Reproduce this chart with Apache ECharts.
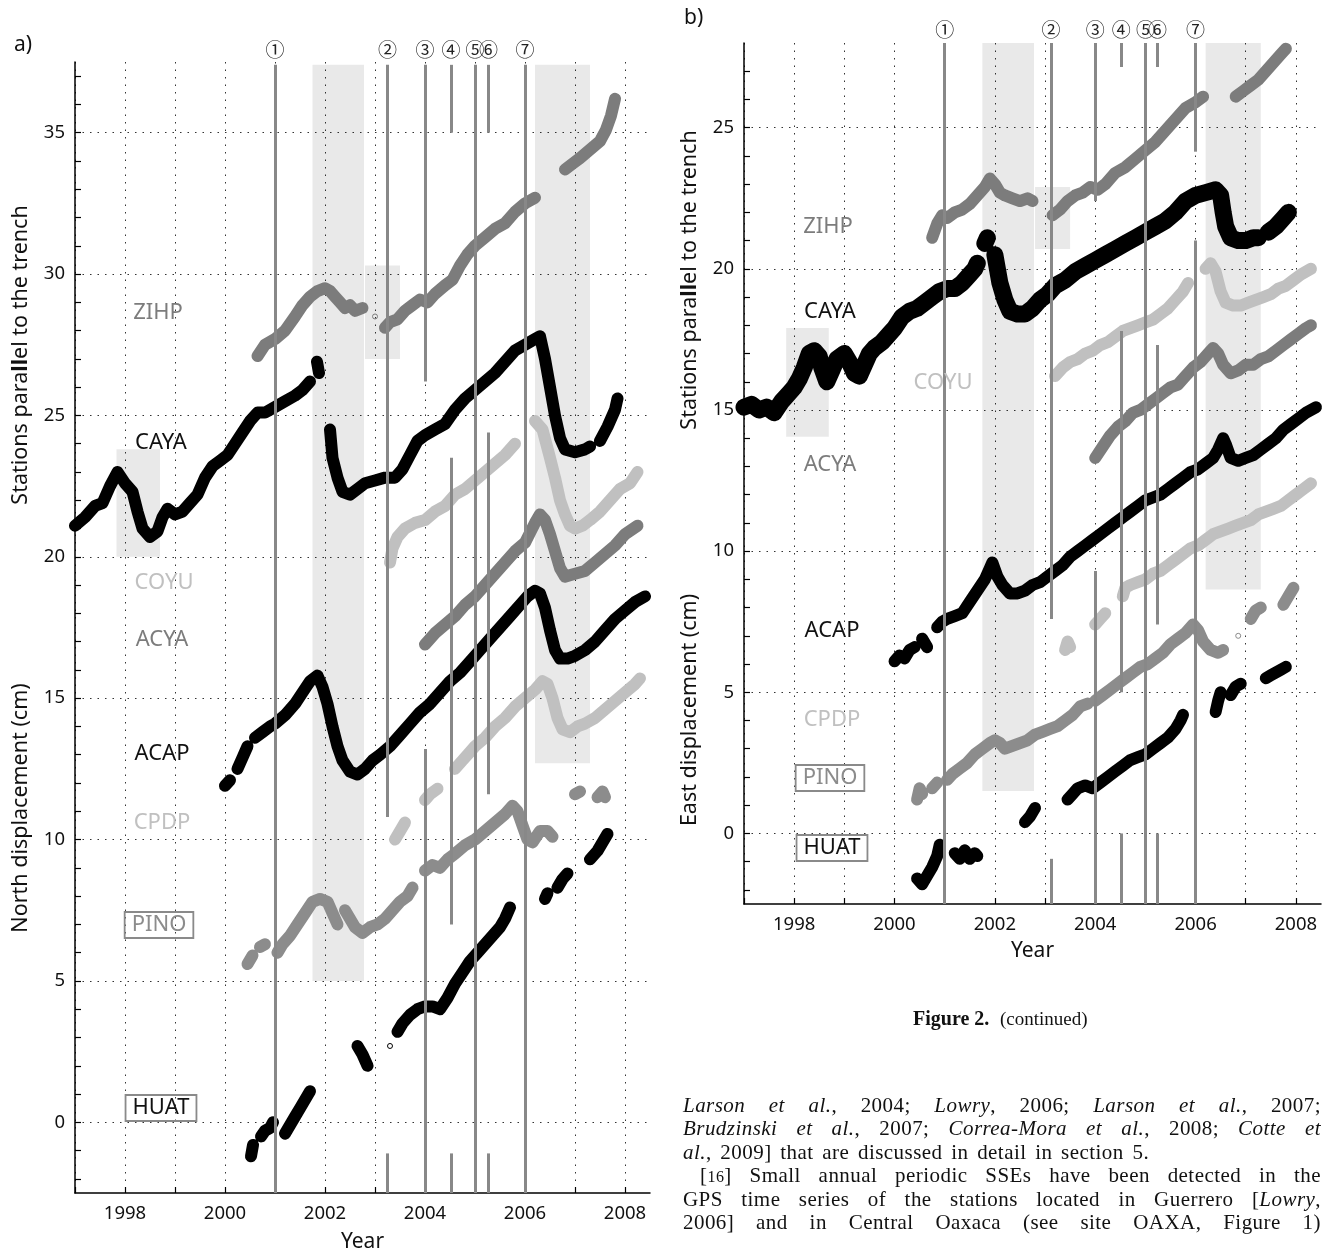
<!DOCTYPE html>
<html><head><meta charset="utf-8">
<script src="https://cdn.jsdelivr.net/npm/echarts@6/dist/echarts.min.js"></script>
<style>
html,body{margin:0;padding:0;background:#fff;overflow:hidden;width:1329px;height:1250px}
#c{position:absolute;left:0;top:0;width:1329px;height:1250px}
.cap{position:absolute;top:1007px;font-family:'Liberation Serif',serif;color:#111;white-space:pre}
#txt{position:absolute;left:683px;top:1094px;width:638px;font-family:'Liberation Serif',serif;font-size:21px;line-height:23.3px;color:#111;letter-spacing:0.45px;word-spacing:3px}
#txt div{text-align:justify;text-align-last:justify;white-space:nowrap}
#txt div.l{text-align-last:left}
#txt div.ind{padding-left:17px}
</style></head>
<body>
<div id="c"></div>
<div class="cap" style="left:913px;font-size:20px"><b>Figure 2.</b></div>
<div class="cap" style="left:1000px;font-size:19px;top:1008px">(continued)</div>
<div id="txt">
<div><i>Larson et al.</i>, 2004; <i>Lowry</i>, 2006; <i>Larson et al.</i>, 2007;</div>
<div><i>Brudzinski et al.</i>, 2007; <i>Correa-Mora et al.</i>, 2008; <i>Cotte et</i></div>
<div class="l"><i>al.</i>, 2009] that are discussed in detail in section 5.</div>
<div class="ind">[<span style="font-size:16px">16</span>]  Small annual periodic SSEs have been detected in the</div>
<div>GPS time series of the stations located in Guerrero [<i>Lowry</i>,</div>
<div>2006] and in Central Oaxaca (see site OAXA, Figure 1)</div>
</div>
<script>
// ---------- tick values ----------
const xTickVals = [1997,1998,1999,2000,2001,2002,2003,2004,2005,2006,2007,2008];
const xLabelVals = [1998,2000,2002,2004,2006,2008];
const yTickValsA = [-2,-1,0,1,2,3,4,5,6,7,8,9,10,11,12,13,14,15,16,17,18,19,20,21,22,23,24,25,26,27,28,29,30,31,32,33,34,35,36,37];
const yLabelValsA = [0,5,10,15,20,25,30,35];
const yTickValsB = [-2,-1,0,1,2,3,4,5,6,7,8,9,10,11,12,13,14,15,16,17,18,19,20,21,22,23,24,25,26,27];
const yLabelValsB = [0,5,10,15,20,25];
const eventLabels = ['①','②','③','④','⑤','⑥','⑦'];

// ---------- panel a: North displacement ----------
const aZIHP = [[2000.65,27.1],[2000.8,27.5],[2001.0,27.7],[2001.2,28.0],[2001.4,28.5],[2001.55,28.9],[2001.7,29.2],[2001.85,29.4],[2002.0,29.5],[2002.1,29.4],[2002.2,29.2],[2002.3,29.0],[2002.4,28.8],[2002.5,28.9],[2002.6,28.7],[2002.75,28.8],null,[2003.0,28.5],null,[2003.2,28.1],[2003.3,28.3],[2003.45,28.4],[2003.6,28.7],[2003.75,28.9],[2003.9,29.1],[2004.05,29.0],[2004.2,29.3],[2004.4,29.6],[2004.55,29.8],[2004.7,30.3],[2004.85,30.7],[2005.0,31.0],[2005.2,31.3],[2005.4,31.6],[2005.6,31.8],[2005.8,32.2],[2006.0,32.5],[2006.2,32.7],null,[2006.8,33.7],[2006.95,33.9],[2007.1,34.1],[2007.3,34.4],[2007.5,34.7],[2007.62,35.1],[2007.72,35.6],[2007.8,36.2]];
const aCAYA = [[1997.0,21.1],[1997.2,21.4],[1997.4,21.8],[1997.55,21.9],[1997.7,22.5],[1997.85,23.0],[1998.0,22.6],[1998.15,22.3],[1998.25,21.6],[1998.35,21.0],[1998.5,20.7],[1998.65,20.9],[1998.75,21.4],[1998.85,21.7],[1999.0,21.5],[1999.15,21.6],[1999.3,21.9],[1999.45,22.2],[1999.6,22.8],[1999.75,23.2],[1999.9,23.4],[2000.05,23.6],[2000.2,24.0],[2000.35,24.4],[2000.5,24.8],[2000.65,25.1],[2000.8,25.1],[2001.0,25.3],[2001.2,25.5],[2001.4,25.7],[2001.55,25.9],[2001.7,26.2],null,[2001.84,26.9],[2001.88,26.5],null,[2002.1,24.5],[2002.15,23.5],[2002.25,22.8],[2002.35,22.3],[2002.5,22.2],[2002.65,22.4],[2002.8,22.6],[2003.0,22.7],[2003.2,22.8],[2003.4,22.8],[2003.55,23.1],[2003.7,23.6],[2003.85,24.1],[2004.0,24.3],[2004.2,24.5],[2004.4,24.7],[2004.6,25.2],[2004.8,25.6],[2005.0,25.9],[2005.2,26.2],[2005.4,26.5],[2005.6,26.9],[2005.8,27.3],[2006.0,27.5],[2006.2,27.7],[2006.3,27.8],[2006.4,27.0],[2006.5,26.0],[2006.6,25.0],[2006.7,24.2],[2006.8,23.8],[2007.0,23.7],[2007.2,23.8],[2007.3,23.9],null,[2007.5,24.1],[2007.65,24.6],[2007.8,25.2],[2007.85,25.6]];
const aCOYU = [[2003.3,19.8],[2003.35,20.3],[2003.45,20.7],[2003.6,21.0],[2003.8,21.2],[2004.0,21.3],[2004.2,21.6],[2004.4,21.8],[2004.6,22.2],[2004.8,22.4],[2005.0,22.7],[2005.2,23.0],[2005.4,23.3],[2005.6,23.6],[2005.8,24.0],null,[2006.2,24.8],[2006.35,24.5],[2006.5,23.5],[2006.6,22.8],[2006.7,22.0],[2006.8,21.5],[2006.9,21.1],[2007.0,21.0],[2007.15,21.1],[2007.3,21.3],[2007.5,21.6],[2007.7,22.0],[2007.9,22.4],[2008.1,22.6],[2008.25,23.0]];
const aACYA = [[2004.0,16.9],[2004.2,17.3],[2004.4,17.6],[2004.6,17.9],[2004.8,18.3],[2005.0,18.6],[2005.2,19.0],[2005.4,19.4],[2005.6,19.8],[2005.8,20.2],[2006.0,20.5],[2006.2,21.2],[2006.3,21.5],[2006.4,21.3],[2006.5,20.8],[2006.6,20.2],[2006.7,19.6],[2006.8,19.3],[2007.0,19.4],[2007.2,19.5],[2007.4,19.8],[2007.6,20.1],[2007.8,20.4],[2008.0,20.8],[2008.25,21.1]];
const aACAP = [[2000.0,11.9],[2000.1,12.1],null,[2000.25,12.5],[2000.35,12.9],[2000.45,13.3],null,[2000.6,13.6],[2000.75,13.8],[2000.9,14.0],[2001.0,14.1],[2001.2,14.4],[2001.4,14.8],[2001.55,15.2],[2001.7,15.6],[2001.85,15.8],[2001.95,15.4],[2002.05,14.8],[2002.15,14.0],[2002.25,13.3],[2002.35,12.8],[2002.5,12.4],[2002.65,12.3],[2002.8,12.5],[2002.95,12.8],[2003.1,13.0],[2003.3,13.3],[2003.5,13.7],[2003.7,14.1],[2003.9,14.5],[2004.1,14.8],[2004.3,15.2],[2004.5,15.6],[2004.7,15.9],[2004.9,16.3],[2005.1,16.7],[2005.3,17.1],[2005.5,17.5],[2005.7,17.9],[2005.9,18.3],[2006.05,18.6],[2006.2,18.8],[2006.3,18.7],[2006.4,18.2],[2006.5,17.4],[2006.6,16.7],[2006.7,16.4],[2006.85,16.4],[2007.0,16.5],[2007.2,16.7],[2007.4,17.0],[2007.6,17.4],[2007.8,17.8],[2008.0,18.1],[2008.2,18.4],[2008.4,18.6]];
const aCPDP = [[2003.4,10.0],[2003.5,10.3],[2003.6,10.6],null,[2004.0,11.4],[2004.1,11.6],[2004.25,11.8],null,[2004.6,12.5],[2004.75,12.8],[2004.9,13.1],[2005.0,13.3],[2005.2,13.6],[2005.4,14.0],[2005.6,14.3],[2005.8,14.7],[2006.0,15.0],[2006.2,15.3],[2006.35,15.6],[2006.45,15.5],[2006.55,15.0],[2006.65,14.3],[2006.75,13.9],[2006.9,13.8],[2007.05,14.0],[2007.2,14.1],[2007.4,14.3],[2007.6,14.6],[2007.8,14.9],[2008.0,15.2],[2008.2,15.5],[2008.3,15.7]];
const aPINO = [[2000.45,5.6],[2000.55,5.9],null,[2000.7,6.2],[2000.8,6.3],null,[2001.05,6.0],[2001.15,6.3],[2001.3,6.6],[2001.45,7.0],[2001.6,7.4],[2001.75,7.8],[2001.9,7.9],[2002.05,7.8],[2002.15,7.4],[2002.25,7.0],null,[2002.4,7.5],[2002.5,7.2],[2002.6,6.9],[2002.75,6.7],[2002.9,6.9],[2003.05,7.0],[2003.2,7.2],[2003.35,7.5],[2003.5,7.8],[2003.65,8.0],[2003.75,8.3],null,[2004.0,8.9],[2004.15,9.1],[2004.3,9.0],[2004.45,9.3],[2004.6,9.5],[2004.8,9.8],[2005.0,10.0],[2005.2,10.3],[2005.4,10.6],[2005.6,10.9],[2005.75,11.2],[2005.85,11.0],[2005.95,10.5],[2006.05,10.0],[2006.15,9.9],[2006.3,10.3],[2006.45,10.3],[2006.55,10.1],null,[2007.0,11.6],[2007.1,11.7],null,[2007.45,11.5],[2007.55,11.7],[2007.6,11.5]];
const aHUAT = [[2000.52,-1.2],[2000.56,-0.8],null,[2000.72,-0.5],[2000.8,-0.3],[2000.9,-0.2],[2000.96,0.0],null,[2001.2,-0.4],[2001.3,-0.1],[2001.4,0.2],[2001.5,0.5],[2001.6,0.8],[2001.7,1.1],null,[2002.65,2.7],[2002.75,2.4],[2002.85,2.0],null,[2003.3,2.7],null,[2003.45,3.2],[2003.55,3.5],[2003.7,3.8],[2003.85,4.0],[2004.0,4.1],[2004.15,4.1],[2004.3,4.0],[2004.45,4.4],[2004.6,4.9],[2004.75,5.3],[2004.9,5.7],[2005.05,6.0],[2005.2,6.3],[2005.35,6.6],[2005.5,6.9],[2005.6,7.2],[2005.7,7.6],null,[2006.4,7.9],[2006.45,8.1],null,[2006.65,8.3],[2006.75,8.6],[2006.85,8.8],null,[2007.3,9.3],[2007.45,9.6],[2007.55,9.9],[2007.65,10.2]];

// ---------- panel b: East displacement ----------
const bZIHP = [[2000.75,21.1],[2000.85,21.6],[2000.95,21.9],[2001.05,21.8],[2001.2,22.0],[2001.35,22.1],[2001.5,22.3],[2001.65,22.6],[2001.8,22.9],[2001.9,23.2],[2002.0,23.0],[2002.1,22.7],[2002.2,22.6],[2002.35,22.5],[2002.5,22.4],[2002.65,22.5],[2002.75,22.4],null,[2003.15,21.9],[2003.3,22.1],[2003.45,22.4],[2003.6,22.6],[2003.75,22.7],[2003.9,22.9],[2004.05,22.8],[2004.2,23.0],[2004.4,23.4],[2004.6,23.6],[2004.8,23.9],[2005.0,24.2],[2005.2,24.5],[2005.4,24.9],[2005.6,25.3],[2005.8,25.7],[2006.0,25.9],[2006.15,26.1],null,[2006.8,26.1],[2006.95,26.3],[2007.1,26.5],[2007.25,26.7],[2007.4,27.0],[2007.55,27.3],[2007.7,27.6],[2007.8,27.8]];
const bCAYA = [[1997.0,15.1],[1997.15,15.2],[1997.3,15.0],[1997.45,15.1],[1997.6,14.9],[1997.75,15.3],[1997.9,15.6],[1998.0,15.8],[1998.1,16.1],[1998.2,16.5],[1998.3,17.0],[1998.4,17.1],[1998.5,16.9],[1998.55,16.5],[1998.65,16.0],[1998.75,16.4],[1998.85,16.8],[1999.0,17.0],[1999.1,16.7],[1999.2,16.3],[1999.3,16.2],[1999.4,16.6],[1999.5,17.0],[1999.6,17.2],[1999.75,17.4],[1999.9,17.7],[2000.0,17.9],[2000.15,18.3],[2000.3,18.5],[2000.45,18.6],[2000.6,18.8],[2000.75,19.0],[2000.9,19.2],[2001.05,19.3],[2001.2,19.3],[2001.35,19.5],[2001.5,19.8],[2001.6,20.0],[2001.65,20.2],null,[2001.8,20.9],[2001.85,21.1],null,[2002.0,20.5],[2002.1,19.5],[2002.2,18.9],[2002.3,18.5],[2002.45,18.4],[2002.6,18.4],[2002.75,18.6],[2002.9,18.9],[2003.05,19.1],[2003.2,19.4],[2003.4,19.6],[2003.6,19.9],[2003.8,20.1],[2004.0,20.3],[2004.2,20.5],[2004.4,20.7],[2004.6,20.9],[2004.8,21.1],[2005.0,21.3],[2005.2,21.5],[2005.4,21.7],[2005.6,22.0],[2005.8,22.4],[2006.0,22.6],[2006.2,22.7],[2006.4,22.8],[2006.5,22.6],[2006.55,22.0],[2006.6,21.5],[2006.7,21.1],[2006.85,21.0],[2007.0,21.0],[2007.15,21.1],[2007.25,21.1],null,[2007.45,21.3],[2007.6,21.5],[2007.75,21.8],[2007.85,22.0]];
const bCOYU = [[2003.2,16.2],[2003.35,16.5],[2003.5,16.7],[2003.65,16.8],[2003.8,17.0],[2003.95,17.1],[2004.1,17.3],[2004.25,17.4],[2004.4,17.6],[2004.55,17.8],[2004.7,17.9],[2004.85,18.0],[2005.0,18.1],[2005.15,18.2],[2005.3,18.4],[2005.45,18.6],[2005.6,18.9],[2005.75,19.2],[2005.85,19.5],null,[2006.2,20.0],[2006.3,20.2],[2006.4,19.9],[2006.5,19.2],[2006.6,18.8],[2006.75,18.7],[2006.9,18.7],[2007.05,18.8],[2007.2,18.9],[2007.35,19.0],[2007.5,19.1],[2007.65,19.3],[2007.8,19.4],[2007.95,19.6],[2008.1,19.8],[2008.3,20.0]];
const bACYA = [[2004.0,13.3],[2004.15,13.7],[2004.3,14.1],[2004.45,14.4],[2004.6,14.6],[2004.75,14.9],[2004.9,15.0],[2005.05,15.2],[2005.2,15.4],[2005.35,15.6],[2005.5,15.8],[2005.65,15.9],[2005.8,16.2],[2005.95,16.5],[2006.1,16.7],[2006.25,17.0],[2006.35,17.2],[2006.45,17.0],[2006.55,16.6],[2006.7,16.3],[2006.85,16.4],[2007.0,16.6],[2007.15,16.6],[2007.3,16.8],[2007.45,16.9],[2007.6,17.1],[2007.75,17.3],[2007.9,17.5],[2008.05,17.7],[2008.2,17.9],[2008.3,18.0]];
const bACAP = [[2000.0,6.1],[2000.1,6.3],null,[2000.2,6.2],[2000.3,6.5],[2000.4,6.6],null,[2000.55,6.9],[2000.65,6.6],null,[2000.85,7.3],[2000.95,7.5],[2001.05,7.6],[2001.2,7.7],[2001.35,7.8],[2001.5,8.2],[2001.65,8.6],[2001.8,9.0],[2001.9,9.4],[2001.95,9.6],[2002.05,9.1],[2002.15,8.8],[2002.3,8.5],[2002.45,8.5],[2002.6,8.6],[2002.75,8.8],[2002.9,8.9],[2003.05,9.1],[2003.2,9.3],[2003.35,9.5],[2003.5,9.8],[2003.65,10.0],[2003.8,10.2],[2003.95,10.4],[2004.1,10.6],[2004.25,10.8],[2004.4,11.0],[2004.55,11.2],[2004.7,11.4],[2004.85,11.6],[2005.0,11.8],[2005.15,11.9],[2005.3,12.0],[2005.45,12.2],[2005.6,12.4],[2005.75,12.6],[2005.9,12.8],[2006.05,12.9],[2006.2,13.1],[2006.35,13.3],[2006.45,13.6],[2006.55,14.0],[2006.6,13.8],[2006.7,13.3],[2006.85,13.2],[2007.0,13.3],[2007.15,13.4],[2007.3,13.6],[2007.45,13.8],[2007.6,14.0],[2007.75,14.3],[2007.9,14.5],[2008.05,14.7],[2008.2,14.9],[2008.4,15.1]];
const bCPDP = [[2003.4,6.5],[2003.45,6.8],[2003.5,6.6],null,[2004.0,7.4],[2004.1,7.6],[2004.2,7.8],null,[2004.55,8.4],[2004.6,8.7],[2004.7,8.8],[2004.85,8.9],[2005.0,9.0],[2005.15,9.2],[2005.3,9.3],[2005.45,9.5],[2005.6,9.7],[2005.75,9.9],[2005.9,10.1],[2006.05,10.2],[2006.2,10.4],[2006.35,10.6],[2006.5,10.7],[2006.65,10.8],[2006.8,10.9],[2006.95,11.0],[2007.1,11.1],[2007.25,11.3],[2007.4,11.4],[2007.55,11.5],[2007.7,11.6],[2007.85,11.8],[2008.0,12.0],[2008.15,12.2],[2008.3,12.4]];
const bPINO = [[2000.45,1.2],[2000.5,1.6],[2000.55,1.4],null,[2000.75,1.6],[2000.85,1.8],null,[2001.05,1.9],[2001.15,2.1],[2001.3,2.3],[2001.45,2.5],[2001.6,2.8],[2001.75,3.0],[2001.9,3.2],[2002.0,3.3],[2002.1,3.2],[2002.2,3.0],[2002.35,3.1],[2002.5,3.2],[2002.65,3.3],[2002.8,3.5],[2002.95,3.6],[2003.1,3.7],[2003.25,3.8],[2003.4,4.0],[2003.55,4.2],[2003.7,4.5],[2003.85,4.6],null,[2004.0,4.7],[2004.15,4.9],[2004.3,5.1],[2004.45,5.3],[2004.6,5.5],[2004.75,5.7],[2004.9,5.9],[2005.05,6.0],[2005.2,6.2],[2005.35,6.4],[2005.5,6.7],[2005.65,6.9],[2005.8,7.1],[2005.95,7.4],[2006.05,7.2],[2006.15,6.8],[2006.3,6.5],[2006.45,6.4],[2006.55,6.5],null,[2006.85,7.0],null,[2007.1,7.6],[2007.2,7.9],[2007.3,8.0],null,[2007.75,8.1],[2007.85,8.4],[2007.95,8.7]];
const bHUAT = [[2000.45,-1.6],[2000.55,-1.8],[2000.65,-1.5],[2000.75,-1.2],[2000.85,-0.8],[2000.9,-0.4],null,[2001.2,-0.7],[2001.3,-0.9],[2001.4,-0.6],[2001.5,-0.9],[2001.6,-0.7],[2001.65,-0.8],null,[2002.6,0.4],[2002.7,0.6],[2002.8,0.9],null,[2003.45,1.2],[2003.55,1.4],[2003.65,1.6],[2003.8,1.7],[2003.95,1.6],[2004.1,1.8],[2004.25,2.0],[2004.4,2.2],[2004.55,2.4],[2004.7,2.6],[2004.85,2.7],[2005.0,2.8],[2005.15,3.0],[2005.3,3.2],[2005.45,3.4],[2005.6,3.7],[2005.7,4.0],[2005.75,4.2],null,[2006.4,4.3],[2006.45,4.7],[2006.5,5.0],null,[2006.7,4.9],[2006.8,5.2],[2006.9,5.3],null,[2007.4,5.5],[2007.5,5.6],[2007.6,5.7],[2007.7,5.8],[2007.8,5.9]];

// ---------- shaded slow-slip windows [x1,y1,x2,y2] ----------
const shadesA = [[1997.83,20.0,1998.7,23.8],[2001.75,5.0,2002.78,37.4],[2002.8,27.0,2003.5,30.3],[2006.2,12.7,2007.3,37.4]];
const shadesB = [[1997.84,14.05,1998.69,17.9],[2001.75,1.5,2002.78,28.1],[2002.8,20.7,2003.5,22.9],[2006.2,8.64,2007.3,28.1]];

// ---------- event lines: year and vertical extents ----------
const eventYearsA = [2001.0,2003.25,2004.0,2004.52,2005.0,2005.27,2006.0];
const eventSegsA = [
  [[-2.5,37.4]],
  [[10.8,37.4],[-2.5,-1.1]],
  [[26.2,37.4],[-2.5,13.2]],
  [[35.0,37.4],[7.0,23.5],[-2.5,-1.1]],
  [[-2.5,37.4]],
  [[35.0,37.4],[11.6,24.4],[-2.5,-1.1]],
  [[-2.5,37.4]]
];
const eventYearsB = [2001.0,2003.12,2004.0,2004.52,2005.0,2005.24,2006.0];
const eventSegsB = [
  [[-2.5,28.0]],
  [[7.6,28.0],[-2.5,-0.9]],
  [[22.4,28.0],[-2.5,9.3]],
  [[27.15,28.0],[5.0,17.8],[-2.5,0.0]],
  [[-2.5,28.0]],
  [[27.15,28.0],[7.4,17.3],[-2.5,0.0]],
  [[24.15,28.0],[-2.5,21.0]]
];

// ---------- styling ----------
const C_BLACK = '#000000', C_GRAY = '#7c7c7c', C_LIGHT = '#c0c0c0', C_PINO = '#8c8c8c';
const FONT = "'Noto Sans', 'Open Sans', sans-serif";
const W = 12;

function band(data, color, width, idx) {
  return {
    type: 'line', xAxisIndex: idx, yAxisIndex: idx * 2, data: data,
    showSymbol: true, symbol: 'circle', symbolSize: 5, connectNulls: false,
    itemStyle: { color: 'rgba(255,255,255,0)', borderColor: color, borderWidth: 1 },
    lineStyle: { color: color, width: width, cap: 'round', join: 'round' },
    silent: true, animation: false, z: 3
  };
}
function shadeSeries(shades, idx) {
  return {
    type: 'line', xAxisIndex: idx, yAxisIndex: idx * 2, data: [], silent: true, z: 1,
    markArea: {
      silent: true,
      itemStyle: { color: 'rgba(0,0,0,0.085)' },
      data: shades.map(s => [{ coord: [s[0], s[1]] }, { coord: [s[2], s[3]] }])
    }
  };
}
function eventSeries(years, segs, idx, dist) {
  const data = [];
  years.forEach((yr, i) => {
    segs[i].forEach((sg, j) => {
      const lab = j === 0
        ? { show: true, position: 'end', formatter: eventLabels[i], distance: dist, color: '#222', fontSize: 19, fontFamily: "'Noto Sans CJK JP'" }
        : { show: false };
      data.push([{ coord: [yr, sg[0]], label: lab }, { coord: [yr, sg[1]], label: lab }]);
    });
  });
  return {
    type: 'line', xAxisIndex: idx, yAxisIndex: idx * 2, data: [], silent: true, z: 6,
    markLine: {
      silent: true, symbol: ['none', 'none'], animation: false,
      lineStyle: { color: '#888888', width: 3, type: 'solid', opacity: 1 },
      data: data
    }
  };
}
function xAxis(idx, gap) {
  return {
    type: 'value', gridIndex: idx, min: 1997, max: 2008.5,
    name: 'Year', nameLocation: 'middle', nameGap: gap,
    nameTextStyle: { fontSize: 21, color: '#111', fontFamily: FONT },
    axisLine: { show: true, onZero: false, lineStyle: { color: '#000', width: 1.5 } },
    axisTick: { show: true, inside: true, length: 6, customValues: xTickVals, lineStyle: { color: '#000', width: 1.2 } },
    axisLabel: { customValues: xLabelVals, formatter: v => String(v), fontSize: 18.5, color: '#111', fontFamily: FONT, margin: 11 },
    splitLine: { show: true, lineStyle: { color: '#333', width: 1, type: [1.5, 6] } }
  };
}
function yAxes(idx, mn, mx, ticks, labels) {
  return [{
    type: 'value', gridIndex: idx, min: mn, max: mx,
    axisLine: { show: true, onZero: false, lineStyle: { color: '#000', width: 1.5 } },
    axisTick: { show: true, inside: true, length: 6, customValues: ticks, lineStyle: { color: '#000', width: 1.2 } },
    axisLabel: { customValues: labels, formatter: v => String(v), fontSize: 18.5, color: '#111', fontFamily: FONT, margin: 10 },
    splitLine: { show: false }
  }, {
    type: 'value', gridIndex: idx, min: mn, max: mx,
    axisLine: { show: false }, axisLabel: { show: false },
    axisTick: { show: false, customValues: labels },
    splitLine: { show: true, lineStyle: { color: '#333', width: 1, type: [1.5, 6] } }
  }];
}

function label(x, y, t, color, boxed) {
  const st = { text: t, fill: color, font: "22px " + FONT, textAlign: 'center', textVerticalAlign: 'middle' };
  if (boxed) { st.borderColor = '#8a8a8a'; st.borderWidth = 1.8; st.padding = [3, 7, 1, 7]; }
  return { type: 'text', x: x, y: y, style: st, z: 20 };
}
function vtitle(x, y, parts) {
  return { type: 'text', x: x, y: y, rotation: Math.PI / 2, z: 20,
    style: { text: parts, textAlign: 'center', textVerticalAlign: 'middle',
      rich: { n: { font: "21.5px " + FONT, fill: '#111' }, b: { font: "bold 21.5px " + FONT, fill: '#111' } } } };
}

const option = {
  animation: false,
  backgroundColor: '#ffffff',
  grid: [
    { left: 75, top: 62, width: 575, height: 1131, containLabel: false, outerBoundsMode: 'none' },
    { left: 744, top: 43, width: 577, height: 861, containLabel: false, outerBoundsMode: 'none' }
  ],
  xAxis: [xAxis(0, 39), xAxis(1, 37)],
  yAxis: [].concat(yAxes(0, -2.5, 37.5, yTickValsA, yLabelValsA), yAxes(1, -2.5, 28, yTickValsB, yLabelValsB)),
  series: [
    shadeSeries(shadesA, 0), shadeSeries(shadesB, 1),
    band(aZIHP, C_GRAY, W, 0), band(aCAYA, C_BLACK, W, 0), band(aCOYU, C_LIGHT, W, 0), band(aACYA, C_GRAY, W, 0),
    band(aACAP, C_BLACK, W, 0), band(aCPDP, C_LIGHT, W, 0), band(aPINO, C_PINO, W, 0), band(aHUAT, C_BLACK, W, 0),
    band(bZIHP, C_GRAY, W, 1), band(bCAYA, C_BLACK, 17, 1), band(bCOYU, C_LIGHT, W, 1), band(bACYA, C_GRAY, W, 1),
    band(bACAP, C_BLACK, W, 1), band(bCPDP, C_LIGHT, W, 1), band(bPINO, C_PINO, W, 1), band(bHUAT, C_BLACK, W, 1),
    eventSeries(eventYearsA, eventSegsA, 0, 6), eventSeries(eventYearsB, eventSegsB, 1, 4)
  ],
  graphic: [
    { type: 'text', x: 14, y: 45, style: { text: 'a)', font: "21px " + FONT, fill: '#111', textVerticalAlign: 'middle' } },
    { type: 'text', x: 684, y: 18, style: { text: 'b)', font: "21px " + FONT, fill: '#111', textVerticalAlign: 'middle' } },
    vtitle(21, 355, '{n|Stations para}{b|ll}{n|el to the trench}'),
    vtitle(21, 808, '{n|North displacement (cm)}'),
    vtitle(690, 280, '{n|Stations para}{b|ll}{n|el to the trench}'),
    vtitle(690, 710, '{n|East displacement (cm)}'),
    label(158, 313, 'ZIHP', C_GRAY), label(161, 443, 'CAYA', '#111'), label(164, 583, 'COYU', C_LIGHT),
    label(162, 640, 'ACYA', C_GRAY), label(162, 754, 'ACAP', '#111'), label(162, 823, 'CPDP', C_LIGHT),
    label(159, 925, 'PINO', C_PINO, true), label(161, 1108, 'HUAT', '#111', true),
    label(828, 227, 'ZIHP', C_GRAY), label(830, 312, 'CAYA', '#111'), label(943, 383, 'COYU', C_LIGHT),
    label(830, 465, 'ACYA', C_GRAY), label(832, 631, 'ACAP', '#111'), label(832, 720, 'CPDP', C_LIGHT),
    label(830, 778, 'PINO', C_PINO, true), label(832, 848, 'HUAT', '#111', true)
  ]
};
const chart = echarts.init(document.getElementById('c'), null, { renderer: 'canvas' });
chart.setOption(option);
</script>
</body></html>
